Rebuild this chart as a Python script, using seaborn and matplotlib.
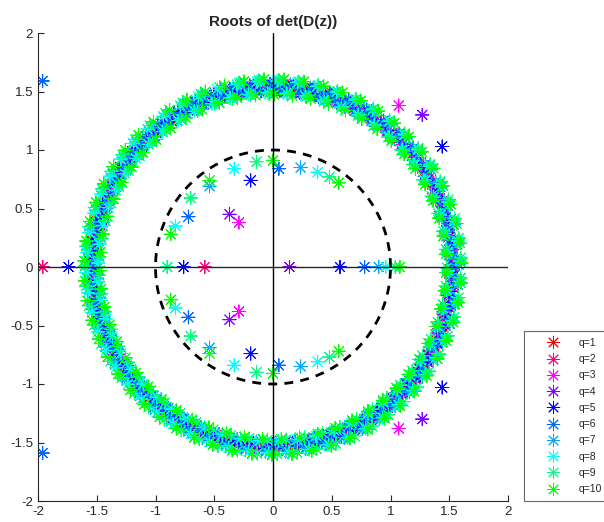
import numpy as np
import pandas as pd
import matplotlib
matplotlib.use("Agg")
import matplotlib.pyplot as plt
import seaborn as sns

sns.set_style("white")
plt.rcParams["font.family"] = ["Liberation Sans", "DejaVu Sans"]

# ---- data -------------------------------------------------------------
q_labels = ["q=1", "q=2", "q=3", "q=4", "q=5", "q=6", "q=7", "q=8", "q=9", "q=10"]
q_colors = ["#ff0000", "#ff0080", "#ff00ff", "#8000ff", "#0000ff",
            "#0066ff", "#00aaff", "#00ffff", "#00ff80", "#00ff00"]

# roots lying on the outer ring (|z| ~ 1.5) for each q
ring_radius = [1.53, 1.53, 1.53, 1.53, 1.535, 1.535, 1.54, 1.54, 1.54, 1.54]
ring_spread = [0.01, 0.01, 0.015, 0.02, 0.02, 0.03, 0.04, 0.05, 0.06, 0.065]
ring_count = [110, 110, 112, 112, 114, 114, 116, 116, 118, 118]
ring_phase_deg = [0.0, 1.0, 2.0, 0.5, 1.5, 2.5, 0.8, 1.8, 2.8, 1.2]

# remaining roots (upper half plane and real axis; conjugates added below)
extra_q = ["q=1", "q=2", "q=2",
           "q=3", "q=3",
           "q=4", "q=4", "q=4",
           "q=5", "q=5", "q=5", "q=5", "q=5",
           "q=6", "q=6", "q=6", "q=6",
           "q=7", "q=7", "q=7",
           "q=8", "q=8", "q=8", "q=8", "q=8",
           "q=9", "q=9", "q=9", "q=9", "q=9",
           "q=10", "q=10", "q=10", "q=10", "q=10"]
extra_re = [-1.96, -1.96, -0.58,
            -0.29, 1.07,
            -0.37, 1.27, 0.14,
            -1.74, -0.76, 0.57, -0.19, 1.44,
            -1.96, 0.78, -0.72, 0.05,
            0.90, -0.54, 0.235,
            -0.90, -0.33, -0.83, 0.38, 0.96,
            -0.90, -0.14, -0.70, 0.48, 1.04,
            1.08, 0.00, -0.54, -0.87, 0.56]
extra_im = [0.0, 0.0, 0.0,
            0.38, 1.38,
            0.45, 1.30, 0.0,
            0.0, 0.0, 0.0, 0.74, 1.03,
            1.59, 0.0, 0.43, 0.84,
            0.0, 0.69, 0.85,
            0.0, 0.84, 0.35, 0.81, 0.0,
            0.0, 0.90, 0.59, 0.77, 0.0,
            0.0, 0.91, 0.74, 0.28, 0.72]

# ---- build table ------------------------------------------------------
rows = []
for qi, lab in enumerate(q_labels):
    n = ring_count[qi]
    ang = np.deg2rad(ring_phase_deg[qi]) + 2 * np.pi * np.arange(n) / n
    rad = ring_radius[qi] + ring_spread[qi] * np.where(np.arange(n) % 2 == 0, 1, -1)
    for a, r in zip(ang, rad):
        rows.append((r * np.cos(a), r * np.sin(a), lab))
    for q, re, im in zip(extra_q, extra_re, extra_im):
        if q != lab:
            continue
        rows.append((re, im, lab))
        if im != 0:
            rows.append((re, -im, lab))
df = pd.DataFrame(rows, columns=["x", "y", "q"])

# ---- figure -----------------------------------------------------------
fig = plt.figure(figsize=(6.04, 5.22), dpi=100)
ax = fig.add_axes([38 / 604, 21 / 522, 470 / 604, 468 / 522])

sns.scatterplot(data=df, x="x", y="y", hue="q", hue_order=q_labels,
                palette=q_colors, marker=(8, 2, 0), s=90, linewidth=0.7,
                ax=ax, legend=True, zorder=2)

# axes lines and unit circle
ax.axhline(0, color="#262626", lw=1.0, zorder=3)
ax.axvline(0, color="black", lw=1.0, zorder=3)
t = np.linspace(0, 2 * np.pi, 400)
ax.plot(np.cos(t), np.sin(t), color="black", lw=2.0, ls=(0, (3.2, 2.6)), zorder=4)

ax.set_xlim(-2, 2)
ax.set_ylim(-2, 2)
ax.set_xticks([-2, -1.5, -1, -0.5, 0, 0.5, 1, 1.5, 2])
ax.set_yticks([-2, -1.5, -1, -0.5, 0, 0.5, 1, 1.5, 2])
ax.set_xticklabels(["-2", "-1.5", "-1", "-0.5", "0", "0.5", "1", "1.5", "2"])
ax.set_yticklabels(["-2", "-1.5", "-1", "-0.5", "0", "0.5", "1", "1.5", "2"])
ax.set_xlabel("")
ax.set_ylabel("")
ax.tick_params(direction="in", length=4, width=0.8, colors="#262626",
               labelsize=9.5, left=True, bottom=True)
for side in ["top", "right"]:
    ax.spines[side].set_visible(False)
for side in ["left", "bottom"]:
    ax.spines[side].set_color("#262626")
    ax.spines[side].set_linewidth(0.8)
ax.set_title("Roots of det(D(z))", fontsize=11, fontweight="bold", pad=5)

handles, labels = ax.get_legend_handles_labels()
ax.get_legend().remove()
leg = fig.legend(handles, labels, loc="lower left",
                 bbox_to_anchor=(524 / 604, 21 / 522), frameon=True,
                 fancybox=False, edgecolor="#444444", fontsize=7.5,
                 borderpad=0.65, labelspacing=0.6, handlelength=4.3,
                 handletextpad=0.25, borderaxespad=0)
leg.get_frame().set_linewidth(0.8)

fig.savefig("out.png", dpi=100)
